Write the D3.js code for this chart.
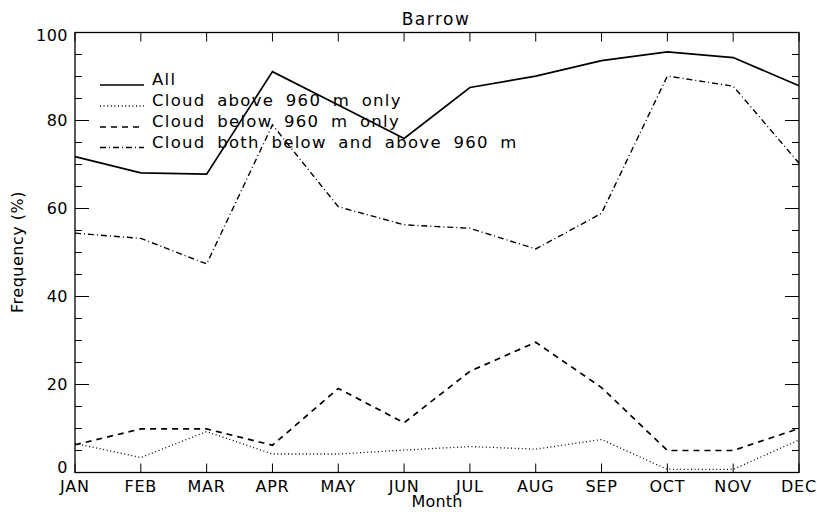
<!DOCTYPE html>
<html><head><meta charset="utf-8">
<script src="https://cdn.jsdelivr.net/npm/d3@7"></script>
<style>body{margin:0;background:#fff}svg{display:block}text{font-family:"DejaVu Sans",sans-serif;fill:#000}</style>
</head><body><svg id="c" width="817" height="517"></svg>
<script>
const months = ["JAN","FEB","MAR","APR","MAY","JUN","JUL","AUG","SEP","OCT","NOV","DEC"];
const allCloud   = [71.8,68.1,67.8,91.1,83.5,75.9,87.5,90.1,93.6,95.6,94.3,87.9];
const aboveOnly  = [6.6,3.4,9.3,4.2,4.2,5.1,5.9,5.3,7.5,0.7,0.7,7.4];
const belowOnly  = [6.3,9.9,9.9,6.2,19.1,11.3,23.0,29.6,19.3,5.0,5.0,10.0];
const bothLevels = [54.4,53.2,47.4,79.0,60.4,56.3,55.5,50.8,58.9,90.1,87.8,70.3];
const yTicks = [0,20,40,60,80,100];
const legendLabels = ["All","Cloud above 960 m only","Cloud below 960 m only","Cloud both below and above 960 m"];

const svg = d3.select("#c");
const L=75,R=799,T=32.5,B=472.5;
const x = d3.scalePoint().domain(months).range([L,R]);
const y = d3.scaleLinear().domain([0,100]).range([B,T]);

const series = [
  {v:allCloud, dash:null, w:1.7},
  {v:aboveOnly, dash:"1,2.6", w:1.3},
  {v:belowOnly, dash:"6,5", w:1.7},
  {v:bothLevels, dash:"6,3,1,3", w:1.4}
];

svg.append("rect").attr("x",L).attr("y",T).attr("width",R-L).attr("height",B-T)
  .attr("fill","none").attr("stroke","#000").attr("stroke-width",1.3);

const g = svg.append("g");
months.forEach(m=>{
  g.append("line").attr("x1",x(m)).attr("x2",x(m)).attr("y1",B).attr("y2",B-9).attr("stroke","#000");
  g.append("line").attr("x1",x(m)).attr("x2",x(m)).attr("y1",T).attr("y2",T+9).attr("stroke","#000");
  g.append("text").attr("x",x(m)).attr("y",492).attr("text-anchor","middle")
   .attr("font-size",16).attr("letter-spacing",0.8).text(m);
});
d3.range(0,101,5).forEach(v=>{
  const major = v%20===0;
  const len = major?14:7;
  g.append("line").attr("x1",L).attr("x2",L+len).attr("y1",y(v)).attr("y2",y(v)).attr("stroke","#000");
  g.append("line").attr("x1",R).attr("x2",R-len).attr("y1",y(v)).attr("y2",y(v)).attr("stroke","#000");
});
yTicks.forEach(v=>{
  g.append("text").attr("x",68).attr("y",Math.max(T+8,Math.min(B,y(v)+5.5))).attr("text-anchor","end")
   .attr("font-size",16).attr("letter-spacing",0.5).text(v);
});

const line = d3.line().x((d,i)=>x(months[i])).y(d=>y(d));
series.forEach(s=>{
  svg.append("path").attr("d",line(s.v)).attr("fill","none").attr("stroke","#000")
    .attr("stroke-width",s.w).attr("stroke-dasharray",s.dash);
});

const ly=[85,106,127,147.5];
series.forEach((s,i)=>{
  svg.append("line").attr("x1",100).attr("x2",144).attr("y1",ly[i]).attr("y2",ly[i])
    .attr("stroke","#000").attr("stroke-width",s.w).attr("stroke-dasharray",s.dash);
  svg.append("text").attr("x",152).attr("y",ly[i]).attr("font-size",16.5)
    .attr("letter-spacing",1.3).attr("word-spacing",5).text(legendLabels[i]);
});

svg.append("text").attr("x",436).attr("y",25).attr("text-anchor","middle").attr("font-size",17).attr("letter-spacing",1.5).text("Barrow");
svg.append("text").attr("x",437).attr("y",507).attr("text-anchor","middle").attr("font-size",16).attr("letter-spacing",0.2).text("Month");
svg.append("text").attr("transform","translate(23,252) rotate(-90)").attr("text-anchor","middle").attr("font-size",16).attr("letter-spacing",0.5).text("Frequency (%)");
</script></body></html>
